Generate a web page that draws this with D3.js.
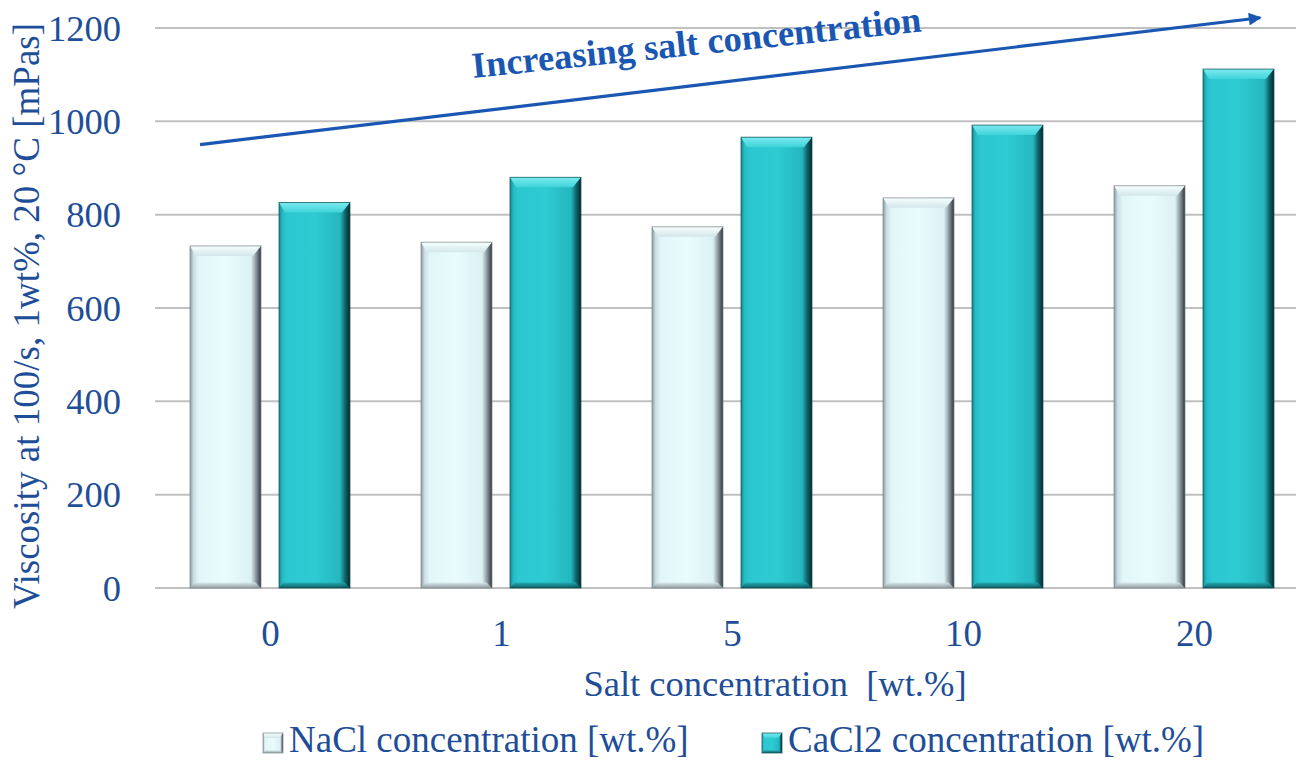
<!DOCTYPE html>
<html>
<head>
<meta charset="utf-8">
<script src="https://cdn.jsdelivr.net/npm/d3@7"></script>
<style>
  html, body { margin: 0; padding: 0; background: #ffffff; }
  svg { display: block; }
  text { white-space: pre; }
</style>
</head>
<body>
<svg id="chart" width="1296" height="763"></svg>
<script>
// Salt concentration categories [wt.%]
const categories = ["0", "1", "5", "10", "20"];
// Viscosity at 100/s, 1 wt%, 20 °C [mPas]
const naclValues = [733, 741, 774, 836, 862];
const cacl2Values = [826, 880, 966, 992, 1112];
const seriesNames = ["NaCl concentration [wt.%]", "CaCl2 concentration [wt.%]"];
const yTicks = [0, 200, 400, 600, 800, 1000, 1200];
// Trend arrow in (category position, viscosity) units
const arrowPoints = [{ pos: -0.305, v: 950 }, { pos: 4.285, v: 1222 }];
const arrowLabel = "Increasing salt concentration";

const svg = d3.select("#chart");
const plot = { left: 155, right: 1310, top: 28, bottom: 588 };

const axisColor = "#1f4e98";
const gridColor = "#c0c0c0";
const font = "'Liberation Serif', 'Times New Roman', serif";

const x0 = d3.scaleBand().domain(categories).range([plot.left, plot.right]).padding(0);
const x1 = d3.scaleBand().domain([0, 1]).range([35, 195]).paddingInner(0.202).paddingOuter(0);
const y = d3.scaleLinear().domain([0, 1200]).range([plot.bottom, plot.top]);
const xPos = d3.scaleLinear().domain([-0.5, categories.length - 0.5]).range([plot.left, plot.right]);

// Gradients for bevelled bars
const defs = svg.append("defs");
function hGrad(id, stops) {
  const g = defs.append("linearGradient").attr("id", id)
    .attr("x1", "0").attr("y1", "0").attr("x2", "1").attr("y2", "0");
  stops.forEach(s => g.append("stop").attr("offset", s[0]).attr("stop-color", s[1]));
}
function vGrad(id, stops) {
  const g = defs.append("linearGradient").attr("id", id)
    .attr("x1", "0").attr("y1", "0").attr("x2", "0").attr("y2", "1");
  stops.forEach(s => g.append("stop").attr("offset", s[0]).attr("stop-color", s[1]));
}
hGrad("naclBody", [["0", "#8e9ba3"], ["0.05", "#c9dde3"], ["0.12", "#e2f6f9"], ["0.5", "#e9fbfd"], ["0.86", "#dcf1f5"], ["0.93", "#8a979d"], ["1", "#2e363a"]]);
hGrad("caclBody", [["0", "#178990"], ["0.05", "#25bcc5"], ["0.12", "#2cc7d0"], ["0.5", "#2ecbd3"], ["0.86", "#25b7bf"], ["0.93", "#10666b"], ["1", "#062a2d"]]);
vGrad("naclTop", [["0", "#f8ffff"], ["1", "#d2e6ea"]]);
vGrad("caclTop", [["0", "#7beaf0"], ["1", "#3fd3da"]]);
vGrad("naclBottom", [["0", "#d7e6ea"], ["1", "#8c989d"]]);
vGrad("caclBottom", [["0", "#22aab2"], ["1", "#0b5357"]]);

const fills = [
  { body: "url(#naclBody)", top: "url(#naclTop)", bottom: "url(#naclBottom)", edge: "#7d868a" },
  { body: "url(#caclBody)", top: "url(#caclTop)", bottom: "url(#caclBottom)", edge: "#0b4d51" }
];

// Gridlines
svg.append("g").selectAll("line").data(yTicks).join("line")
  .attr("x1", plot.left).attr("x2", plot.right)
  .attr("y1", d => y(d)).attr("y2", d => y(d))
  .attr("stroke", gridColor).attr("stroke-width", 2);

// Y tick labels
svg.append("g").selectAll("text").data(yTicks).join("text")
  .attr("x", 121).attr("y", d => y(d))
  .attr("dy", "0.35em")
  .attr("text-anchor", "end")
  .attr("font-family", font).attr("font-size", 36.5)
  .attr("fill", axisColor)
  .text(d => d);

// Bars
const rows = [];
categories.forEach((c, i) => {
  [naclValues[i], cacl2Values[i]].forEach((v, s) => rows.push({ c, s, v }));
});

function drawBar(g, bx, by, bw, bh, f, bev) {
  g.append("rect").attr("x", bx).attr("y", by).attr("width", bw).attr("height", bh)
    .attr("fill", f.body);
  // top bevel
  g.append("path")
    .attr("d", `M${bx},${by} L${bx + bw},${by} L${bx + bw - bev * 0.8},${by + bev} L${bx + bev * 0.6},${by + bev} Z`)
    .attr("fill", f.top);
  // bottom bevel
  const bb = bev * 0.55;
  g.append("path")
    .attr("d", `M${bx},${by + bh} L${bx + bw},${by + bh} L${bx + bw - bb},${by + bh - bb} L${bx + bb * 0.8},${by + bh - bb} Z`)
    .attr("fill", f.bottom).attr("opacity", 0.9);
  g.append("rect").attr("x", bx).attr("y", by).attr("width", bw).attr("height", bh)
    .attr("fill", "none").attr("stroke", f.edge).attr("stroke-width", 1).attr("stroke-opacity", 0.7);
}

const barG = svg.append("g");
rows.forEach(d => {
  const bx = x0(d.c) + x1(d.s);
  const bw = x1.bandwidth();
  const by = y(d.v);
  const bh = y(0) - y(d.v);
  drawBar(barG.append("g"), bx, by, bw, bh, fills[d.s], 10);
});

// X tick labels
svg.append("g").selectAll("text").data(categories).join("text")
  .attr("x", d => x0(d) + x0.bandwidth() / 2)
  .attr("y", 646)
  .attr("text-anchor", "middle")
  .attr("font-family", font).attr("font-size", 37)
  .attr("fill", axisColor)
  .text(d => d);

// Axis titles
svg.append("text")
  .attr("x", 775).attr("y", 696)
  .attr("text-anchor", "middle")
  .attr("font-family", font).attr("font-size", 36.5)
  .attr("fill", axisColor)
  .text("Salt concentration  [wt.%]");

svg.append("text")
  .attr("transform", "translate(39,316) rotate(-90)")
  .attr("text-anchor", "middle")
  .attr("font-family", font).attr("font-size", 37)
  .attr("fill", axisColor)
  .text("Viscosity at 100/s, 1wt%, 20 °C [mPas]");

// Legend
const legendItems = [{ x: 263, s: 0 }, { x: 762, s: 1 }];
const legG = svg.append("g");
legendItems.forEach(it => {
  drawBar(legG.append("g"), it.x, 733, 20, 20, fills[it.s], 5);
  legG.append("text")
    .attr("x", it.x + 26).attr("y", 752)
    .attr("font-family", font).attr("font-size", 37)
    .attr("fill", axisColor)
    .text(seriesNames[it.s]);
});

// Trend arrow
const arrowColor = "#1a57b2";
defs.append("marker").attr("id", "arrowHead")
  .attr("viewBox", "0 0 10 10").attr("refX", 9).attr("refY", 5)
  .attr("markerWidth", 4.6).attr("markerHeight", 4)
  .attr("markerUnits", "strokeWidth")
  .attr("orient", "auto")
  .append("path").attr("d", "M0,0 L10,5 L0,10 Z").attr("fill", arrowColor);

const ax1 = xPos(arrowPoints[0].pos), ay1 = y(arrowPoints[0].v);
const ax2 = xPos(arrowPoints[1].pos), ay2 = y(arrowPoints[1].v);
svg.append("line")
  .attr("x1", ax1).attr("y1", ay1).attr("x2", ax2).attr("y2", ay2)
  .attr("stroke", arrowColor).attr("stroke-width", 3.2)
  .attr("marker-end", "url(#arrowHead)");

svg.append("text")
  .attr("transform", `translate(${xPos(0.877)},${y(1093)}) rotate(-5.9)`)
  .attr("font-family", font).attr("font-size", 36.5).attr("font-weight", "bold")
  .attr("fill", arrowColor)
  .text(arrowLabel);
</script>
</body>
</html>
